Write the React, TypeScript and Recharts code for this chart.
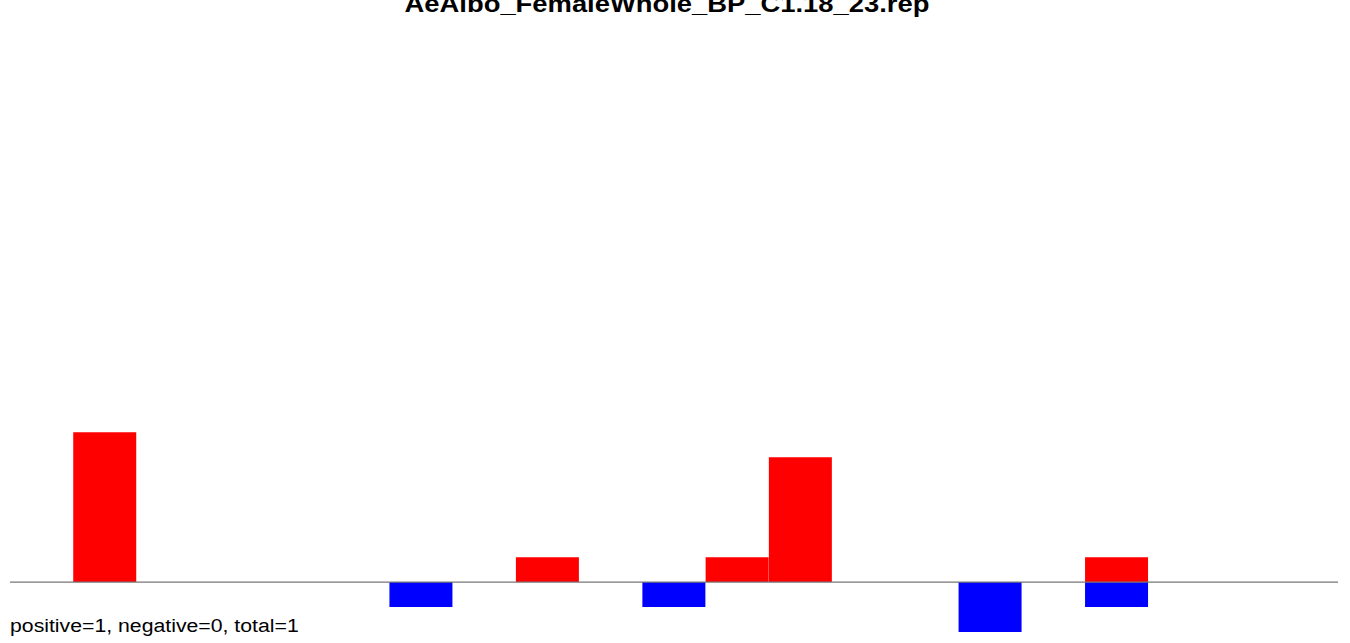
import { ComposedChart, Bar, XAxis, YAxis, ReferenceLine } from 'recharts';

// 21 positions along the read
const POSITIONS = ['1', '2', '3', '4', '5', '6', '7', '8', '9', '10', '11', '12', '13', '14', '15', '16', '17', '18', '19', '20', '21'];
const POSITIVE = [0, 6, 0, 0, 0, 0, 0, 0, 1, 0, 0, 1, 5, 0, 0, 0, 0, 1, 0, 0, 0];
const NEGATIVE = [0, 0, 0, 0, 0, 0, -1, 0, 0, 0, -1, 0, 0, 0, 0, -2, 0, -1, 0, 0, 0];

const TITLE = 'AeAlbo_FemaleWhole_BP_C1.18_23.rep';
const FOOTER = 'positive=1, negative=0, total=1';

const data = POSITIONS.map((p, i) => ({ pos: p, up: POSITIVE[i], down: NEGATIVE[i] }));

export default function App() {
  return (
    <div style={{ position: 'absolute', left: 0, top: 0, width: 1350, height: 643, background: '#fff', overflow: 'hidden', fontFamily: '"Liberation Sans", Arial, sans-serif' }}>
      <div style={{ position: 'absolute', left: -8, width: 1350, top: -9, textAlign: 'center', fontWeight: 'bold', fontSize: 23, lineHeight: '26px', color: '#000', transform: 'scaleX(1.19)', transformOrigin: '675px 0' }}>
        {TITLE}
      </div>
      <ComposedChart width={1350} height={643} data={data} stackOffset="sign" barCategoryGap={0} barGap={0}
        margin={{ top: 33, right: 12, bottom: 11, left: 10 }}>
        <XAxis dataKey="pos" hide />
        <YAxis hide domain={[-2, 22]} allowDataOverflow />
        <ReferenceLine y={0} stroke="#777777" strokeWidth={1.2} />
        <Bar dataKey="up" stackId="s" fill="#ff0000" isAnimationActive={false} />
        <Bar dataKey="down" stackId="s" fill="#0000ff" isAnimationActive={false} />
      </ComposedChart>
      <div style={{ position: 'absolute', left: 10, top: 614, fontSize: 18, lineHeight: '24px', color: '#000', whiteSpace: 'nowrap', transform: 'scaleX(1.18)', transformOrigin: '0 0' }}>
        {FOOTER}
      </div>
    </div>
  );
}
